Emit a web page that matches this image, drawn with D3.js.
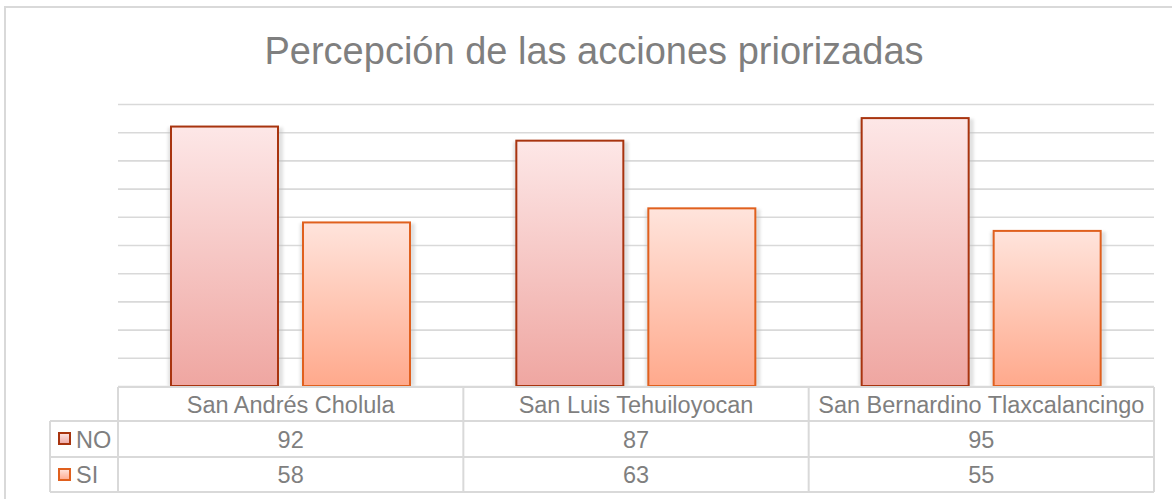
<!DOCTYPE html>
<html>
<head>
  <meta charset="utf-8">
  <style>
    body {
      margin: 0;
      background: white;
    }
    text {
      font-family: "Liberation Sans", Arial, sans-serif;
      fill: #7f7f7f;
    }
  </style>
</head>
<body>
  <script src="https://d3js.org/d3.v7.min.js"></script>
  <script>
    var width = 1172, height = 499;

    var title = "Percepción de las acciones priorizadas";
    var municipios = ["San Andrés Cholula", "San Luis Tehuiloyocan", "San Bernardino Tlaxcalancingo"];
    var series = ["NO", "SI"];
    var valuesNO = [92, 87, 95];
    var valuesSI = [58, 63, 55];
    var yTicks = [0, 10, 20, 30, 40, 50, 60, 70, 80, 90, 100];

    var seriesValues = { NO: valuesNO, SI: valuesSI };
    var colors = {
      NO: { top: "#fde7e7", bottom: "#efa6a1", stroke: "#a8340f" },
      SI: { top: "#ffe4dc", bottom: "#ffa98c", stroke: "#e0601e" }
    };

    var plot = { left: 118, right: 1154, top: 104, bottom: 386 };
    var table = { labelLeft: 50, headTop: 387, rowH: [34, 36, 35] };

    var svg = d3.select("body").append("svg")
        .attr("width", width)
        .attr("height", height);

    var defs = svg.append("defs");
    series.forEach(function(s) {
      var g = defs.append("linearGradient")
          .attr("id", "grad-" + s)
          .attr("x1", 0).attr("y1", 0).attr("x2", 0).attr("y2", 1);
      g.append("stop").attr("offset", "0%").attr("stop-color", colors[s].top);
      g.append("stop").attr("offset", "100%").attr("stop-color", colors[s].bottom);
    });
    defs.append("filter").attr("id", "shadow")
        .attr("x", "-20%").attr("y", "-20%").attr("width", "140%").attr("height", "140%")
      .append("feGaussianBlur").attr("stdDeviation", 1.6);

    // outer frame
    svg.append("path")
        .attr("d", "M5," + height + "V7H" + width)
        .attr("fill", "none")
        .attr("stroke", "#d9d9d9")
        .attr("stroke-width", 2);

    // title
    svg.append("text")
        .attr("x", 594)
        .attr("y", 64)
        .attr("text-anchor", "middle")
        .style("font-size", "38px")
        .text(title);

    var x = d3.scaleBand().domain(municipios).range([plot.left, plot.right]);
    var xs = d3.scaleBand().domain(series).range([53, 292]).paddingInner(25 / 132);
    var y = d3.scaleLinear().domain([0, 100]).range([plot.bottom, plot.top]);

    // gridlines
    svg.append("g")
        .attr("transform", "translate(" + plot.left + ",0)")
        .call(d3.axisLeft(y).tickValues(yTicks).tickSize(-(plot.right - plot.left)).tickFormat(""))
        .call(function(g) { g.select(".domain").remove(); })
        .selectAll("line")
        .attr("stroke", "#d9d9d9")
        .attr("stroke-width", 1.6);

    // bars
    var groups = svg.selectAll("g.grupo")
        .data(municipios)
      .enter().append("g")
        .attr("class", "grupo")
        .attr("transform", d => "translate(" + x(d) + ",0)");

    var barData = function(m, i) {
      return series.map(s => ({ serie: s, value: seriesValues[s][i] }));
    };

    groups.selectAll("rect.sombra")
        .data(barData)
      .enter().append("rect")
        .attr("class", "sombra")
        .attr("x", d => xs(d.serie) - 3)
        .attr("y", d => y(d.value) + 1)
        .attr("width", xs.bandwidth() + 8)
        .attr("height", d => y(0) - y(d.value) - 1)
        .attr("fill", "#bdbdbd")
        .attr("opacity", 0.45)
        .attr("filter", "url(#shadow)");

    groups.selectAll("rect.barra")
        .data(barData)
      .enter().append("rect")
        .attr("class", "barra")
        .attr("x", d => xs(d.serie))
        .attr("y", d => y(d.value))
        .attr("width", xs.bandwidth())
        .attr("height", d => y(0) - y(d.value))
        .attr("fill", d => "url(#grad-" + d.serie + ")")
        .attr("stroke", d => colors[d.serie].stroke)
        .attr("stroke-width", 2);

    // white under table so shadows are cut
    svg.append("rect")
        .attr("x", plot.left - 1).attr("y", table.headTop)
        .attr("width", plot.right - plot.left + 2).attr("height", 110)
        .attr("fill", "white");

    // data table
    var rowTops = [table.headTop];
    table.rowH.forEach(function(h) { rowTops.push(rowTops[rowTops.length - 1] + h); });
    var lineColor = "#d9d9d9";
    var tbl = svg.append("g").attr("stroke", lineColor).attr("stroke-width", 2);

    // horizontal lines
    tbl.append("line").attr("x1", plot.left).attr("x2", plot.right).attr("y1", rowTops[0]).attr("y2", rowTops[0]);
    rowTops.slice(1).forEach(function(yy) {
      tbl.append("line").attr("x1", table.labelLeft).attr("x2", plot.right).attr("y1", yy).attr("y2", yy);
    });
    // vertical lines
    tbl.append("line").attr("x1", table.labelLeft).attr("x2", table.labelLeft).attr("y1", rowTops[1]).attr("y2", rowTops[3]);
    municipios.forEach(function(m) {
      tbl.append("line").attr("x1", x(m)).attr("x2", x(m)).attr("y1", rowTops[0]).attr("y2", rowTops[3]);
    });
    tbl.append("line").attr("x1", plot.right).attr("x2", plot.right).attr("y1", rowTops[0]).attr("y2", rowTops[3]);

    var fs = "23.5px";
    svg.selectAll("text.cat")
        .data(municipios)
      .enter().append("text")
        .attr("class", "cat")
        .attr("x", d => x(d) + x.bandwidth() / 2)
        .attr("y", 413)
        .attr("text-anchor", "middle")
        .style("font-size", fs)
        .text(d => d);

    var baselines = { NO: 448, SI: 483 };
    series.forEach(function(s, si) {
      var top = rowTops[si + 1];
      svg.append("rect")
          .attr("x", 59).attr("y", top + 12)
          .attr("width", 11).attr("height", 11)
          .attr("fill", "url(#grad-" + s + ")")
          .attr("stroke", colors[s].stroke)
          .attr("stroke-width", 2);
      svg.append("text")
          .attr("x", 76)
          .attr("y", baselines[s])
          .style("font-size", fs)
          .text(s);
      svg.selectAll("text.val-" + s)
          .data(seriesValues[s])
        .enter().append("text")
          .attr("class", "val-" + s)
          .attr("x", (d, i) => x(municipios[i]) + x.bandwidth() / 2)
          .attr("y", baselines[s])
          .attr("text-anchor", "middle")
          .style("font-size", fs)
          .text(d => d);
    });
  </script>
</body>
</html>
